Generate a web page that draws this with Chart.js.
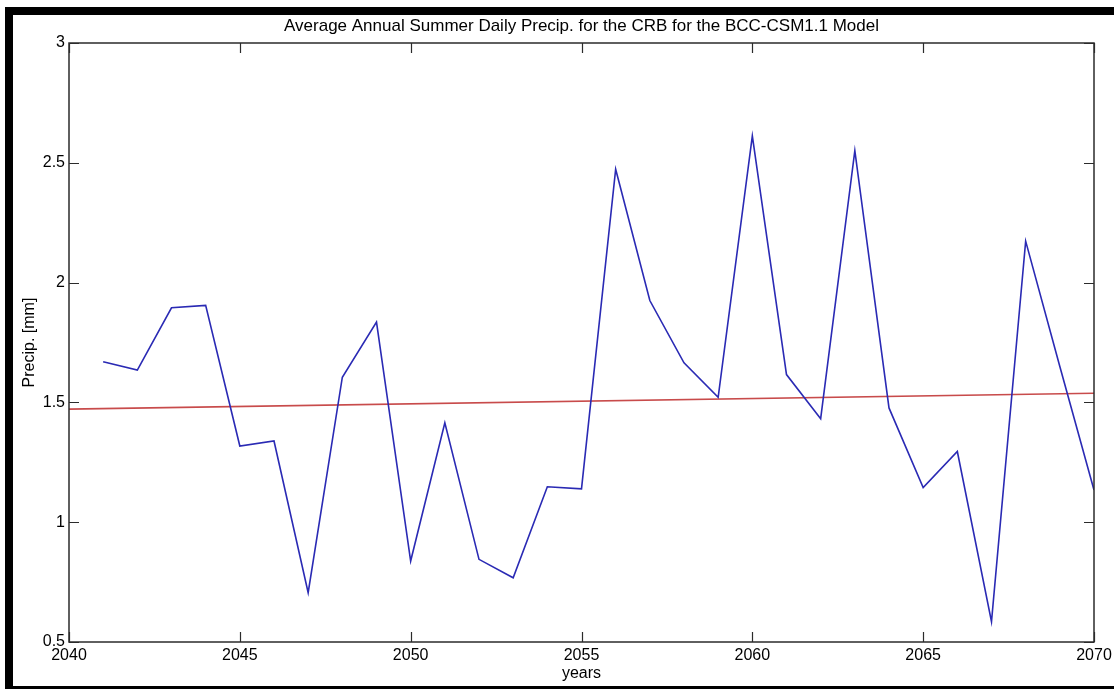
<!DOCTYPE html>
<html>
<head>
<meta charset="utf-8">
<script src="https://cdn.jsdelivr.net/npm/chart.js@4/dist/chart.umd.min.js"></script>
<style>
  html, body { margin: 0; padding: 0; background: #fff; }
  canvas { display: block; }
</style>
</head>
<body>
<canvas id="c" width="1114" height="689"></canvas>
<script>
// Summer daily precipitation, one value per year
const years = [2041, 2042, 2043, 2044, 2045, 2046, 2047, 2048, 2049, 2050,
               2051, 2052, 2053, 2054, 2055, 2056, 2057, 2058, 2059, 2060,
               2061, 2062, 2063, 2064, 2065, 2066, 2067, 2068, 2069, 2070];
const precip = [1.670, 1.635, 1.895, 1.905, 1.318, 1.339, 0.706, 1.605, 1.835, 0.838,
                1.415, 0.845, 0.768, 1.148, 1.139, 2.473, 1.925, 1.665, 1.521, 2.612,
                1.616, 1.432, 2.551, 1.477, 1.145, 1.295, 0.585, 2.173, 1.650, 1.134];

// Linear trend line end points
const trendYears = [2040, 2070];
const trendValues = [1.472, 1.538];

// Axis ticks
const xTicks = [2040, 2045, 2050, 2055, 2060, 2065, 2070];
const xTickLabels = ['2040', '2045', '2050', '2055', '2060', '2065', '2070'];
const yTicks = [0.5, 1, 1.5, 2, 2.5, 3];
const yTickLabels = ['0.5', '1', '1.5', '2', '2.5', '3'];

const FONT = "'Liberation Sans', Arial, Helvetica, sans-serif";
const AXIS_COLOR = '#2b2b2b';

// Plot box with inward tick marks on all four sides, plus the black page frame
const boxPlugin = {
  id: 'boxPlugin',
  beforeDraw(chart) {
    const ctx = chart.ctx;
    ctx.save();
    ctx.fillStyle = '#fff';
    ctx.fillRect(0, 0, chart.width, chart.height);
    ctx.restore();
  },
  afterDatasetsDraw(chart) {
    const ctx = chart.ctx;
    const a = chart.chartArea;
    const xs = chart.scales.x, ys = chart.scales.y;
    const len = 10;
    ctx.save();
    ctx.strokeStyle = AXIS_COLOR;
    ctx.lineWidth = 1.5;
    ctx.strokeRect(a.left, a.top, a.right - a.left, a.bottom - a.top);
    ctx.beginPath();
    xTicks.forEach(v => {
      const px = Math.round(xs.getPixelForValue(v)) + 0.5;
      ctx.moveTo(px, a.bottom); ctx.lineTo(px, a.bottom - len);
      ctx.moveTo(px, a.top); ctx.lineTo(px, a.top + len);
    });
    yTicks.forEach(v => {
      const py = Math.round(ys.getPixelForValue(v)) + 0.5;
      ctx.moveTo(a.left, py); ctx.lineTo(a.left + len, py);
      ctx.moveTo(a.right, py); ctx.lineTo(a.right - len, py);
    });
    ctx.lineWidth = 1.2;
    ctx.stroke();
    ctx.restore();
  },
  afterDraw(chart) {
    const ctx = chart.ctx;
    ctx.save();
    ctx.fillStyle = '#000';
    ctx.fillRect(5, 7, chart.width - 5, 8);     // top bar
    ctx.fillRect(5, 7, 8, chart.height - 7);    // left bar
    ctx.fillRect(5, 686, chart.width - 5, 8);   // bottom bar
    ctx.restore();
  }
};

new Chart(document.getElementById('c'), {
  type: 'line',
  data: {
    datasets: [
      {
        label: 'Precip.',
        data: years.map((y, i) => ({ x: y, y: precip[i] })),
        borderColor: 'rgb(42, 42, 180)',
        borderWidth: 1.6,
        pointRadius: 0,
        tension: 0,
        fill: false
      },
      {
        label: 'Trend',
        data: trendYears.map((y, i) => ({ x: y, y: trendValues[i] })),
        borderColor: 'rgb(200, 75, 75)',
        borderWidth: 1.6,
        pointRadius: 0,
        tension: 0,
        fill: false
      }
    ]
  },
  options: {
    responsive: false,
    animation: false,
    devicePixelRatio: 1,
    layout: { padding: { left: 0, right: 20, top: 0, bottom: 0 } },
    plugins: {
      legend: { display: false },
      tooltip: { enabled: false },
      title: {
        display: true,
        fullSize: false,
        text: 'Average Annual Summer Daily Precip. for the CRB for the BCC-CSM1.1 Model',
        color: '#000',
        font: { family: FONT, size: 17, weight: 'normal', lineHeight: 1.2 },
        padding: { top: 16, bottom: 6.6 }
      }
    },
    scales: {
      x: {
        type: 'linear',
        min: 2040,
        max: 2070,
        grid: { display: false, drawTicks: false },
        border: { display: false },
        afterBuildTicks(scale) { scale.ticks = xTicks.map(v => ({ value: v })); },
        afterFit(scale) {
          scale.height = 47;
          scale.paddingLeft = 0;
          scale.paddingRight = 0;
        },
        ticks: {
          color: '#000',
          font: { family: FONT, size: 16 },
          padding: 4,
          maxRotation: 0,
          autoSkip: false,
          callback: (v) => xTickLabels[xTicks.indexOf(v)]
        },
        title: {
          display: true,
          text: 'years',
          color: '#000',
          font: { family: FONT, size: 16, lineHeight: 1.2 },
          padding: { top: 0, bottom: 6 }
        }
      },
      y: {
        type: 'linear',
        min: 0.5,
        max: 3,
        grid: { display: false, drawTicks: false },
        border: { display: false },
        afterBuildTicks(scale) { scale.ticks = yTicks.map(v => ({ value: v })); },
        afterFit(scale) { scale.width = 69; },
        ticks: {
          color: '#000',
          font: { family: FONT, size: 16 },
          padding: 4,
          autoSkip: false,
          callback: (v) => yTickLabels[yTicks.indexOf(v)]
        },
        title: {
          display: true,
          text: 'Precip. [mm]',
          color: '#000',
          font: { family: FONT, size: 16, lineHeight: 1.2 },
          padding: { top: 20, bottom: 0 }
        }
      }
    }
  },
  plugins: [boxPlugin]
});
</script>
</body>
</html>
